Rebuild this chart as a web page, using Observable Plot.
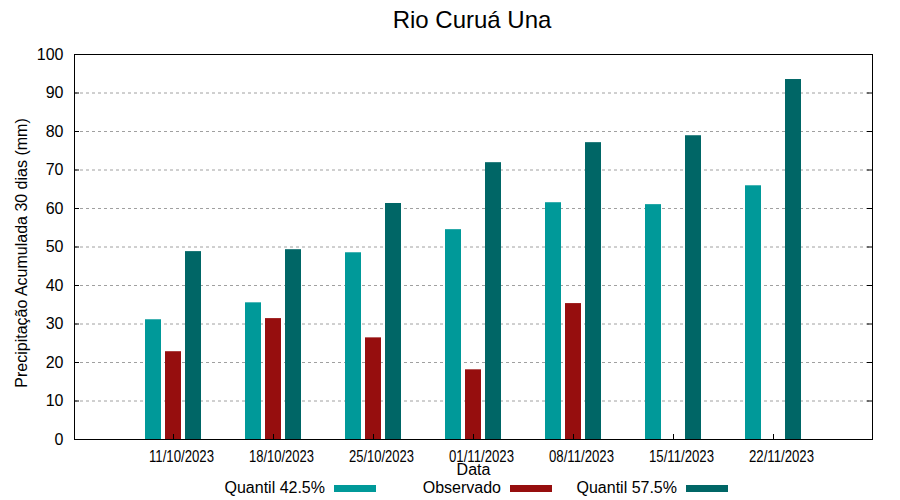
<!DOCTYPE html>
<html>
<head>
<meta charset="utf-8">
<script src="https://cdn.jsdelivr.net/npm/d3@7"></script>
<script src="https://cdn.jsdelivr.net/npm/@observablehq/plot@0.6"></script>
<style>
  body { margin: 0; background: #fff; overflow: hidden; font-family: "Liberation Sans", Arial, sans-serif; }
  #wrap { position: relative; width: 900px; height: 500px; }
  #chart { position: absolute; left: 0; top: 0; }
  #title { position: absolute; left: 72px; top: 6px; width: 800px; text-align: center; font-size: 24px; line-height: 28px; color: #000; }
  #legend { position: absolute; left: 200px; top: 478px; display: flex; }
  .item { width: 176px; display: flex; justify-content: flex-end; align-items: center; font-size: 16px; line-height: 20px; }
  .sw { width: 42px; height: 7px; margin-left: 9px; }
</style>
</head>
<body>
<div id="wrap">
  <div id="chart"></div>
  <div id="title"></div>
  <div id="legend"></div>
</div>
<script>
const titleText = "Rio Curuá Una";
const yLabel = "Precipitação Acumulada 30 dias (mm)";
const xLabel = "Data";
const dates = ["11/10/2023", "18/10/2023", "25/10/2023", "01/11/2023", "08/11/2023", "15/11/2023", "22/11/2023"];
const q425 = [31.1, 35.5, 48.5, 54.5, 61.5, 61.0, 65.9];
const observado = [22.8, 31.4, 26.4, 18.1, 35.3, null, null];
const q575 = [48.8, 49.3, 61.3, 71.9, 77.1, 78.9, 93.5];
const seriesNames = ["Quantil 42.5%", "Observado", "Quantil 57.5%"];
const seriesColors = ["#009999", "#960e0e", "#006666"];
const yTicks = [0, 10, 20, 30, 40, 50, 60, 70, 80, 90, 100];

const table = dates.map((d, i) => ({date: d, q425: q425[i], obs: observado[i], q575: q575[i]}));

const W = 900, H = 500, mL = 74, mR = 28, mT = 54, mB = 61;
const pw = W - mL - mR, ph = H - mT - mB;

const plot = Plot.plot({
  width: W, height: H,
  marginLeft: mL, marginRight: mR, marginTop: mT, marginBottom: mB,
  style: {fontFamily: "'Liberation Sans', Arial, sans-serif", fontSize: "16px", color: "#000", background: "#fff"},
  x: {type: "band", domain: dates, paddingInner: 0.44, paddingOuter: 0.71, axis: null},
  y: {domain: [0, 100], axis: null},
  marks: [
    Plot.ruleY(yTicks.filter(v => v > 0 && v < 100), {stroke: "#a0a0a0", strokeDasharray: "3,3", strokeWidth: 1}),
    Plot.barY(table, {x: "date", y: "q425", fill: seriesColors[0], insetLeft: 0, insetRight: 40}),
    Plot.barY(table.filter(d => d.obs != null), {x: "date", y: "obs", fill: seriesColors[1], insetLeft: 20, insetRight: 20}),
    Plot.barY(table, {x: "date", y: "q575", fill: seriesColors[2], insetLeft: 40, insetRight: 0}),
    Plot.ruleY(yTicks, {stroke: "#000", insetRight: pw - 5}),
    Plot.ruleY(yTicks, {stroke: "#000", insetLeft: pw - 5}),
    Plot.ruleX(dates, {x: d => d, stroke: "#000", insetTop: ph - 5}),
    Plot.frame({stroke: "#000", strokeWidth: 1}),
    Plot.text(yTicks, {y: d => d, frameAnchor: "left", textAnchor: "end", dx: -11, fontSize: 16, fill: "#000"}),
    Plot.text(dates, {x: d => d, frameAnchor: "bottom", dy: 22, dx: 8, fontSize: 16, fill: "#000", className: "xticklab"}),
    Plot.text([xLabel], {frameAnchor: "bottom", dy: 35, fontSize: 16, fill: "#000"}),
    Plot.text([yLabel], {frameAnchor: "left", rotate: -90, textAnchor: "middle", dx: -53, dy: 6, fontSize: 16, fill: "#000"})
  ]
});
// condensed tick labels as in the reference
d3.select(plot).selectAll(".xticklab text")
  .attr("textLength", 65)
  .attr("lengthAdjust", "spacingAndGlyphs");
document.getElementById("chart").appendChild(plot);
document.getElementById("title").textContent = titleText;
const legend = document.getElementById("legend");
seriesNames.forEach((name, i) => {
  const item = document.createElement("div");
  item.className = "item";
  const t = document.createElement("span");
  t.textContent = name;
  const s = document.createElement("span");
  s.className = "sw";
  s.style.background = seriesColors[i];
  item.appendChild(t);
  item.appendChild(s);
  legend.appendChild(item);
});
</script>
</body>
</html>
